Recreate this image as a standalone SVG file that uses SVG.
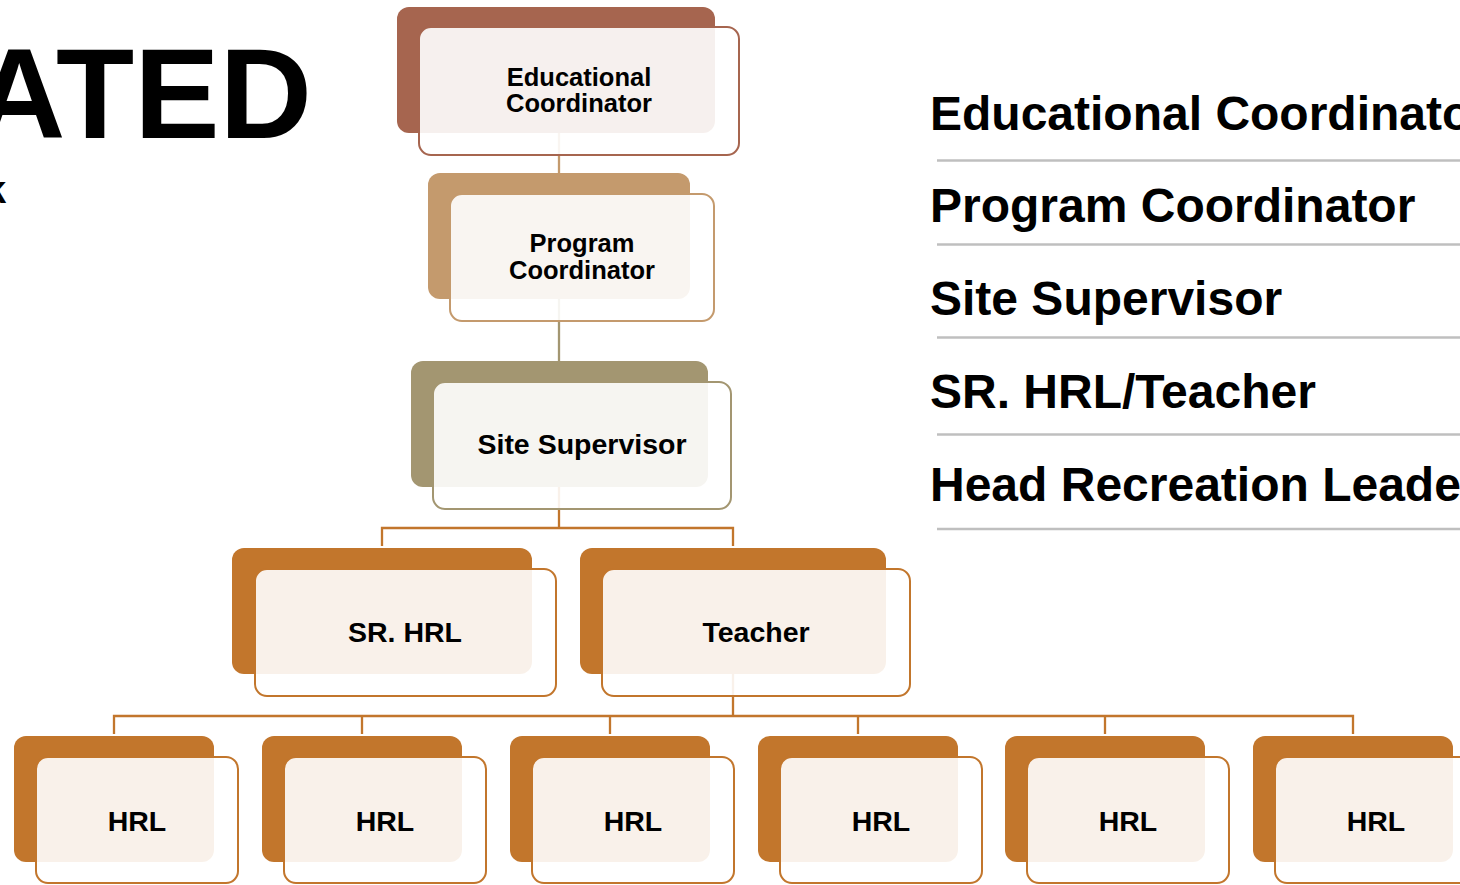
<svg xmlns="http://www.w3.org/2000/svg" width="1460" height="885" viewBox="0 0 1460 885">
<style>
  text { font-family: "Liberation Sans", Arial, sans-serif; font-weight: bold; fill: #000; }
  .title { font-size: 128px; }
  .frag { font-size: 38px; }
  .list { font-size: 48px; }
  .rule { stroke: #BFBFBF; stroke-width: 2.5; fill: none; }
  .lbl2 { font-size: 25.5px; text-anchor: middle; }
  .lbl { font-size: 28.5px; text-anchor: middle; }
  .front { fill: #FFFFFF; fill-opacity: 0.9; stroke-width: 2; }
  .conn { fill: none; stroke-width: 2.3; }
  .c-edu { fill: #A6654F; }
  .s-edu { stroke: #A6654F; }
  .c-prg { fill: #C49A6D; }
  .s-prg { stroke: #C49A6D; }
  .c-site { fill: #A39671; }
  .s-site { stroke: #A39671; }
  .c-or { fill: #C2762C; }
  .s-or { stroke: #C2762C; }
</style>

<!-- cut-off title at left -->
<text class="title" x="312" y="138" text-anchor="end">ATED</text>
<text class="frag" x="-15" y="203">k</text>

<!-- connectors (drawn beneath nodes) -->
<g id="connectors">
  <line class="conn s-prg" x1="559" y1="133" x2="559" y2="174"/>
  <line class="conn s-site" x1="559" y1="299" x2="559" y2="362"/>
  <path class="conn s-or" d="M559,487 V528 M382,546 V528 H733 V546"/>
  <path class="conn s-or" d="M733,674 V716 M114,734 V716 H1353 V734 M362,716 V734 M610,716 V734 M858,716 V734 M1105,716 V734"/>
</g>

<!-- nodes -->
<g id="node-educational">
  <rect class="c-edu" x="397" y="7" width="318" height="126" rx="12"/>
  <rect class="front s-edu" x="419" y="27" width="320" height="128" rx="12"/>
  <text class="lbl2" x="579" y="86">Educational</text>
  <text class="lbl2" x="579" y="112">Coordinator</text>
</g>

<g id="node-program">
  <rect class="c-prg" x="428" y="173" width="262" height="126" rx="12"/>
  <rect class="front s-prg" x="450" y="194" width="264" height="127" rx="12"/>
  <text class="lbl2" x="582" y="252">Program</text>
  <text class="lbl2" x="582" y="279">Coordinator</text>
</g>

<g id="node-site">
  <rect class="c-site" x="411" y="361" width="297" height="126" rx="12"/>
  <rect class="front s-site" x="433" y="382" width="298" height="127" rx="12"/>
  <text class="lbl" x="582" y="454">Site Supervisor</text>
</g>

<g id="node-srhrl">
  <rect class="c-or" x="232" y="548" width="300" height="126" rx="12"/>
  <rect class="front s-or" x="255" y="569" width="301" height="127" rx="12"/>
  <text class="lbl" x="405" y="642">SR. HRL</text>
</g>

<g id="node-teacher">
  <rect class="c-or" x="580" y="548" width="306" height="126" rx="12"/>
  <rect class="front s-or" x="602" y="569" width="308" height="127" rx="12"/>
  <text class="lbl" x="756" y="642">Teacher</text>
</g>

<g id="node-hrl1">
  <rect class="c-or" x="14" y="736" width="200" height="126" rx="12"/>
  <rect class="front s-or" x="36" y="757" width="202" height="126" rx="12"/>
  <text class="lbl" x="137" y="831">HRL</text>
</g>
<g id="node-hrl2">
  <rect class="c-or" x="262" y="736" width="200" height="126" rx="12"/>
  <rect class="front s-or" x="284" y="757" width="202" height="126" rx="12"/>
  <text class="lbl" x="385" y="831">HRL</text>
</g>
<g id="node-hrl3">
  <rect class="c-or" x="510" y="736" width="200" height="126" rx="12"/>
  <rect class="front s-or" x="532" y="757" width="202" height="126" rx="12"/>
  <text class="lbl" x="633" y="831">HRL</text>
</g>
<g id="node-hrl4">
  <rect class="c-or" x="758" y="736" width="200" height="126" rx="12"/>
  <rect class="front s-or" x="780" y="757" width="202" height="126" rx="12"/>
  <text class="lbl" x="881" y="831">HRL</text>
</g>
<g id="node-hrl5">
  <rect class="c-or" x="1005" y="736" width="200" height="126" rx="12"/>
  <rect class="front s-or" x="1027" y="757" width="202" height="126" rx="12"/>
  <text class="lbl" x="1128" y="831">HRL</text>
</g>
<g id="node-hrl6">
  <rect class="c-or" x="1253" y="736" width="200" height="126" rx="12"/>
  <rect class="front s-or" x="1275" y="757" width="202" height="126" rx="12"/>
  <text class="lbl" x="1376" y="831">HRL</text>
</g>

<!-- right-hand list -->
<g id="list">
  <text class="list" x="930" y="130">Educational Coordinator</text>
  <line class="rule" x1="937" y1="160.5" x2="1460" y2="160.5"/>
  <text class="list" x="930" y="222">Program Coordinator</text>
  <line class="rule" x1="937" y1="244.5" x2="1460" y2="244.5"/>
  <text class="list" x="930" y="315">Site Supervisor</text>
  <line class="rule" x1="937" y1="337.5" x2="1460" y2="337.5"/>
  <text class="list" x="930" y="408">SR. HRL/Teacher</text>
  <line class="rule" x1="937" y1="434.5" x2="1460" y2="434.5"/>
  <text class="list" x="930" y="501">Head Recreation Leader</text>
  <line class="rule" x1="937" y1="529" x2="1460" y2="529"/>
</g>
</svg>
